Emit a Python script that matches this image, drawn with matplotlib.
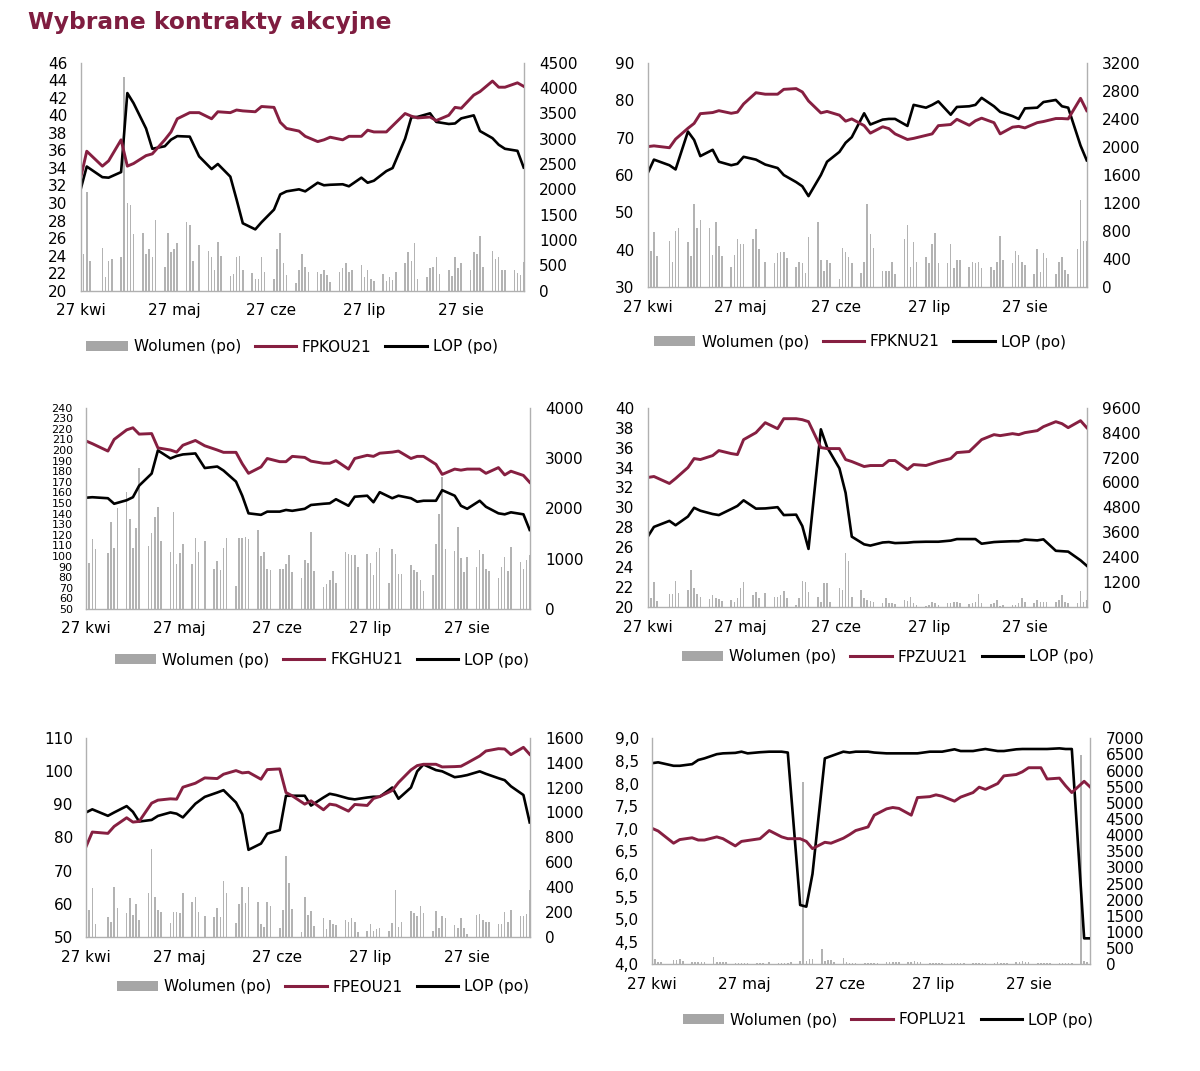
import numpy as np
import pandas as pd
import matplotlib
matplotlib.use('Agg')
from matplotlib import pyplot as plt
from matplotlib.patches import Patch
from matplotlib.lines import Line2D
from matplotlib.ticker import FuncFormatter

MAROON = '#861f41'
GRAY_BAR = '#b3b3b3'
SPINE = '#b0b0b0'

# trading days 27 Apr - 16 Sep 2021 (without 3 May and 3 Jun)
holidays = pd.to_datetime(['2021-05-03', '2021-06-03'])
tdays = pd.bdate_range('2021-04-27', '2021-09-16')
tdays = tdays[~tdays.isin(holidays)]
line_days = tdays[::2]  # prices read every second session

month_ticks = pd.to_datetime(['2021-04-27', '2021-05-27', '2021-06-27', '2021-07-27', '2021-08-27'])
month_labels = ['27 kwi', '27 maj', '27 cze', '27 lip', '27 sie']

# ---- FPKOU21 ----
fpkou = [32.8, 35.9, 34.2, 34.8, 37.2, 34.2, 34.5, 35.4, 35.6, 37.2, 38.1, 39.6, 40.3, 40.3, 39.6, 40.4, 40.3,
         40.6, 40.5, 40.4, 41.0, 40.9, 39.2, 38.5, 38.2, 37.6, 37.0, 37.2, 37.5, 37.2, 37.6, 37.6, 38.3, 38.1,
         38.1, 38.8, 40.2, 39.9, 39.7, 39.8, 39.4, 40.0, 40.9, 40.8, 42.3, 42.7, 43.9, 43.2, 43.2, 43.7, 43.3]
lop_pko = [1990, 2450, 2240, 2230, 2340, 3900, 3700, 3200, 2800, 2850, 2980, 3050, 3040, 2650, 2400, 2500, 2250,
           1800, 1330, 1210, 1350, 1600, 1900, 1960, 2000, 1960, 2130, 2080, 2090, 2100, 2060, 2230, 2130, 2170,
           2360, 2420, 3000, 3420, 3430, 3500, 3330, 3290, 3300, 3400, 3460, 3150, 3010, 2880, 2800, 2760, 2430]
vol_pko = [243, 724, 1954, 585,
           835, 276, 592, 618,
           658, 4210, 1737, 1690, 1112,
           1145, 724, 816, 658, 1395,
           474, 1145, 770, 830, 934,
           1362, 1296, 585, 901,
           789, 658, 408, 967, 684,
           296, 320, 658, 684, 408,
           342, 230, 230, 671, 375,
           224, 822, 1145, 539, 309,
           158, 408, 724, 474, 375,
           375, 329, 408, 309, 164,
           375, 441, 553, 375, 408,
           507, 263, 408, 224, 197,
           329, 197, 263, 210, 375,
           553, 770, 585, 934, 230,
           263, 441, 474, 671, 329,
           408, 289, 658, 441, 553,
           408, 770, 724, 1079, 474,
           789, 618, 658, 408, 408,
           408, 340, 300, 560]

# ---- FPKNU21 ----
fpknu = [67.6, 67.8, 67.3, 69.6, 72.5, 73.8, 76.4, 76.7, 77.2, 76.5, 76.8, 79.0, 82.0, 81.6, 81.6, 82.9, 83.1,
         82.2, 79.8, 76.6, 77.0, 76.0, 74.4, 75.0, 73.2, 71.2, 72.9, 72.4, 71.0, 69.5, 69.8, 70.6, 71.0, 73.2,
         73.5, 74.9, 73.3, 74.5, 75.2, 74.0, 71.0, 72.8, 73.0, 72.6, 74.0, 74.3, 75.1, 75.1, 75.0, 80.5, 77.2]
lop_pkn = [1630, 1820, 1740, 1680, 2220, 2100, 1870, 1960, 1790, 1740, 1760, 1860, 1820, 1750, 1700, 1600, 1500,
           1440, 1300, 1600, 1790, 1930, 2060, 2140, 2480, 2320, 2390, 2400, 2400, 2300, 2600, 2560, 2600, 2650,
           2460, 2570, 2580, 2600, 2700, 2580, 2500, 2440, 2400, 2550, 2560, 2640, 2670, 2580, 2560, 2020, 1810]
vol_pkn = [342, 518, 793, 446,
           665, 361, 807, 840,
           641, 446, 1187, 840, 959,
           840, 461, 935, 589, 446,
           285, 461, 689, 613, 613,
           689, 831, 541, 366,
           342, 484, 508, 508, 413,
           285, 366, 342, 209, 712,
           935, 389, 237, 389, 342,
           114, 565, 508, 427, 342,
           209, 366, 1187, 760, 565,
           237, 237, 237, 366, 190,
           689, 888, 285, 641, 366,
           437, 342, 617, 769, 342,
           342, 613, 271, 389, 389,
           285, 366, 342, 366, 271,
           285, 247, 366, 736, 389,
           342, 518, 461, 366, 318,
           190, 541, 223, 494, 413,
           190, 356, 437, 247, 190,
           541, 1244, 665, 665]

# ---- FKGHU21 ----
fkghu = [208.5, 206, 199, 210, 219, 221, 215, 215.5, 202, 200, 198, 204.5, 209, 204, 200, 197.8, 197.8,
         187, 178, 184, 192, 189, 189, 194, 193, 189.5, 187.5, 187.5, 190, 182, 192, 195, 194, 197,
         198, 199, 192, 194, 194, 186.5, 177, 182, 181, 182, 182, 178, 183.4, 176.5, 180, 176, 169.5]
lop_kgh = [2210, 2220, 2200, 2090, 2160, 2220, 2450, 2690, 3150, 2990, 3040, 3070, 3090, 2800, 2830, 2750, 2530,
           2250, 1900, 1870, 1934, 1934, 1967, 1950, 1990, 2066, 2090, 2099, 2180, 2050, 2230, 2250, 2120, 2320,
           2200, 2250, 2200, 2130, 2150, 2150, 2360, 2250, 2050, 1990, 2150, 2030, 1900, 1880, 1920, 1880, 1570]
vol_kgh = [1417, 907, 1391, 1192,
           1106, 1722, 1205, 2000,
           2331, 1788, 1205, 1603, 2808,
           1258, 1503, 1834, 2033, 1358,
           1126, 1921, 887, 1106, 1285,
           887, 1417, 1139, 1351,
           795, 954, 775, 1205, 1417,
           457, 1417, 1417, 1437, 1391,
           1570, 1060, 1126, 795, 775,
           795, 795, 887, 1073, 728,
           609, 974, 907, 1523, 755,
           444, 490, 576, 755, 510,
           1139, 1086, 1073, 1073, 841,
           1086, 907, 675, 1139, 1219,
           510, 1192, 1086, 689, 689,
           874, 775, 742, 576, 358,
           675, 1285, 1881, 2629, 1192,
           1152, 1636, 1020, 728, 1040,
           841, 1172, 1086, 795, 755,
           609, 841, 1040, 755, 1238,
           927, 795, 974, 1073]

# ---- FPZUU21 ----
fpzuu = [33.0, 33.1, 32.4, 32.9, 34.0, 34.9, 34.8, 35.2, 35.7, 35.4, 35.3, 36.8, 37.5, 38.5, 37.9, 38.9, 38.9,
         38.8, 38.6, 36.0, 35.9, 35.9, 34.8, 34.6, 34.1, 34.2, 34.2, 34.7, 34.7, 33.8, 34.3, 34.2, 34.4, 34.6,
         34.9, 35.5, 35.6, 36.2, 36.8, 37.3, 37.2, 37.4, 37.3, 37.5, 37.7, 38.1, 38.6, 38.4, 38.0, 38.7, 38.0]
lop_pzu = [3390, 3860, 4150, 3940, 4360, 4780, 4640, 4480, 4430, 4720, 4870, 5140, 4740, 4750, 4810, 4430, 4450,
           3900, 2800, 8560, 7700, 6680, 5500, 3390, 3020, 2960, 3110, 3130, 3080, 3100, 3130, 3146, 3146, 3146,
           3200, 3274, 3274, 3274, 3050, 3130, 3146, 3170, 3170, 3250, 3210, 3260, 2710, 2690, 2670, 2250, 1990]
vol_pzu = [449, 449, 1188, 289,
           610, 610, 1252, 658,
           819, 1782, 899, 610, 498,
           385, 578, 449, 385, 289,
           337, 257, 449, 899, 1188,
           578, 738, 449, 658,
           498, 498, 578, 787, 449,
           96, 417, 1252, 1188, 738,
           498, 257, 1172, 1140, 257,
           899, 819, 2584, 2215, 498,
           819, 417, 337, 289, 225,
           177, 449, 177, 177, 128,
           337, 289, 498, 177, 96,
           64, 96, 257, 177, 96,
           177, 177, 257, 257, 177,
           128, 177, 257, 610, 177,
           128, 177, 337, 64, 96,
           96, 96, 177, 417, 257,
           177, 337, 257, 257, 257,
           257, 337, 578, 257, 177,
           177, 770, 257, 337]

# ---- FPEOU21 ----
fpeou = [77.2, 81.6, 81.2, 83.3, 85.9, 84.6, 84.8, 90.3, 91.2, 91.6, 91.5, 95.1, 96.3, 97.9, 97.7, 99.0, 100.1,
         99.4, 99.6, 97.5, 100.4, 100.6, 93.5, 92.5, 90.0, 91.0, 88.3, 90.0, 89.7, 87.9, 89.9, 89.6, 91.7, 92.3,
         94.1, 96.5, 100.3, 101.6, 102.0, 102.0, 101.2, 101.3, 101.4, 102.4, 104.5, 106.0, 106.7, 106.6, 104.9,
         107.1, 105.0]
lop_peo = [1000, 1025, 973, 1000, 1051, 1005, 927, 940, 972, 1000, 990, 960, 1070, 1125, 1160, 1179, 1080,
           985, 700, 750, 830, 858, 1134, 1134, 1134, 1055, 1120, 1150, 1140, 1112, 1105, 1120, 1126, 1126,
           1200, 1110, 1200, 1330, 1385, 1340, 1330, 1283, 1290, 1300, 1330, 1310, 1275, 1259, 1210, 1140, 920]
vol_peo = [91, 217, 390, 102,
           163, 118, 404, 230,
           190, 316, 176, 262, 136,
           350, 706, 324, 217, 203,
           110, 203, 198, 190, 350,
           283, 324, 198, 171,
           163, 235, 163, 449, 350,
           110, 262, 398, 270, 398,
           283, 102, 83, 283, 249,
           75, 217, 652, 436, 225,
           37, 324, 176, 209, 91,
           150, 64, 136, 102, 96,
           136, 118, 150, 118, 37,
           48, 102, 48, 64, 75,
           48, 110, 377, 83, 123,
           209, 190, 171, 249, 190,
           48, 209, 75, 171, 155,
           96, 75, 150, 75, 21,
           176, 182, 136, 123, 118,
           102, 102, 203, 123, 217,
           171, 171, 182, 377]

# ---- FOPLU21 ----
foplu = [7.01, 6.95, 6.68, 6.76, 6.80, 6.75, 6.75, 6.82, 6.78, 6.62, 6.72, 6.74, 6.78, 6.96, 6.82, 6.78, 6.78,
         6.72, 6.56, 6.70, 6.68, 6.79, 6.87, 6.96, 7.04, 7.30, 7.44, 7.47, 7.45, 7.30, 7.69, 7.71, 7.75, 7.72,
         7.61, 7.70, 7.80, 7.92, 7.87, 8.00, 8.17, 8.20, 8.26, 8.35, 8.35, 8.10, 8.12, 7.95, 7.80, 8.05, 7.92]
lop_opl = [6230, 6257, 6150, 6150, 6200, 6330, 6380, 6510, 6535, 6550, 6587, 6535, 6570, 6587, 6587, 6560, 1838,
           1786, 2800, 6380, 6450, 6587, 6560, 6587, 6587, 6560, 6535, 6535, 6535, 6535, 6535, 6587, 6587, 6587,
           6660, 6607, 6607, 6640, 6670, 6607, 6607, 6660, 6670, 6670, 6670, 6670, 6690, 6670, 6670, 805, 805]
vol_opl = [90, 150, 60, 80,
           120, 130, 150, 90,
           60, 60, 60, 60, 60,
           237, 80, 60, 60, 60,
           50, 50, 50, 50, 50,
           50, 50, 50, 60,
           50, 50, 50, 50, 60,
           90, 5658, 110, 150, 180,
           475, 110, 120, 130, 60,
           186, 60, 50, 50, 50,
           50, 50, 50, 50, 50,
           60, 60, 60, 60, 60,
           60, 60, 100, 60, 60,
           50, 50, 50, 50, 50,
           50, 50, 50, 50, 50,
           50, 50, 50, 50, 50,
           50, 60, 50, 50, 50,
           60, 60, 100, 60, 60,
           50, 50, 50, 50, 50,
           50, 50, 50, 50, 50,
           6484, 100, 60, 60]


def comma_fmt(v, pos):
    return ('%.1f' % v).replace('.', ',')


def draw_panel(fig, rect, name, price, lop, vol, lticks, rticks, leg_xy, comma=False, lsize=11):
    '''
    one chart: price on the left axis, volume bars and LOP on the right axis
    '''
    ax = fig.add_axes(rect)
    ax2 = ax.twinx()
    ax.set_zorder(ax2.get_zorder() + 1)
    ax.patch.set_visible(False)

    ax2.bar(tdays, vol, width=0.5, color=GRAY_BAR, zorder=1)
    ax2.plot(line_days, lop, color='black', lw=1.9, zorder=3)
    ax.plot(line_days, price, color=MAROON, lw=2.1)

    ax.set_xlim(tdays[0], tdays[-1])
    ax.set_ylim(lticks[0], lticks[-1])
    ax2.set_ylim(rticks[0], rticks[-1])
    ax.set_yticks(lticks)
    ax2.set_yticks(rticks)
    if comma:
        ax.yaxis.set_major_formatter(FuncFormatter(comma_fmt))
    ax.set_xticks(month_ticks)
    ax.set_xticklabels(month_labels)

    ax.tick_params(axis='y', length=0, pad=9.5, labelsize=lsize)
    ax2.tick_params(axis='y', length=0, pad=11, labelsize=11)
    ax.tick_params(axis='x', length=0, pad=9, labelsize=11)

    for a in (ax, ax2):
        for s in a.spines.values():
            s.set_visible(False)
    ax.spines['left'].set_visible(True)
    ax.spines['bottom'].set_visible(True)
    ax2.spines['right'].set_visible(True)
    for s in (ax.spines['left'], ax.spines['bottom'], ax2.spines['right']):
        s.set_color(SPINE)
        s.set_linewidth(1.0)

    handles = [Patch(facecolor='#a6a6a6', edgecolor='none'),
               Line2D([], [], color=MAROON, lw=2.2),
               Line2D([], [], color='black', lw=2.2)]
    labels = ['Wolumen (po)', name, 'LOP (po)']
    fig.legend(handles, labels, loc='center', ncol=3, frameon=False, fontsize=11,
               bbox_to_anchor=(leg_xy[0] / 1200.0, 1 - leg_xy[1] / 1071.0),
               handlelength=2.7, handletextpad=0.4, columnspacing=0.9, handleheight=0.55)
    return ax, ax2


fig = plt.figure(figsize=(12, 10.71), dpi=100)
fig.text(28 / 1200.0, 1 - 22 / 1071.0, 'Wybrane kontrakty akcyjne', fontsize=16.8, fontweight='bold',
         color='#7f1d40', ha='left', va='center')

draw_panel(fig, [0.0671, 0.7286, 0.3693, 0.2129], 'FPKOU21', fpkou, lop_pko, vol_pko,
           np.arange(20, 47, 2), np.arange(0, 4501, 500), (292, 347))
draw_panel(fig, [0.5398, 0.7317, 0.3658, 0.2097], 'FPKNU21', fpknu, lop_pkn, vol_pkn,
           np.arange(30, 91, 10), np.arange(0, 3201, 400), (860, 342))
# left scale of KGHM is very dense, smaller labels like the squeezed ones in the source
draw_panel(fig, [0.0717, 0.4314, 0.3697, 0.1880], 'FKGHU21', fkghu, lop_kgh, vol_kgh,
           np.arange(50, 241, 10), np.arange(0, 4001, 1000), (322, 660), lsize=8)
draw_panel(fig, [0.5398, 0.4332, 0.3658, 0.1861], 'FPZUU21', fpzuu, lop_pzu, vol_pzu,
           np.arange(20, 41, 2), np.arange(0, 9601, 1200), (888, 657))
draw_panel(fig, [0.0717, 0.1251, 0.3697, 0.1861], 'FPEOU21', fpeou, lop_peo, vol_peo,
           np.arange(50, 111, 10), np.arange(0, 1601, 200), (323, 987))
draw_panel(fig, [0.5433, 0.0996, 0.3653, 0.2110], 'FOPLU21', foplu, lop_opl, vol_opl,
           np.arange(4.0, 9.01, 0.5), np.arange(0, 7001, 500), (888, 1020), comma=True)

fig.savefig('out.png', dpi=100)
